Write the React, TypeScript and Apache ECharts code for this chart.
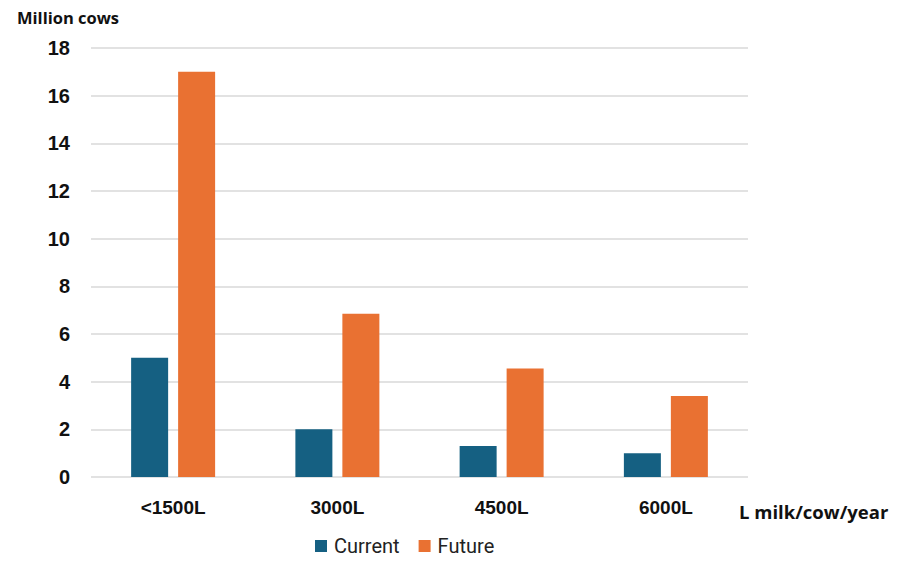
import React, { useEffect, useRef } from "react";
import * as echarts from "echarts";

const categories = ["<1500L", "3000L", "4500L", "6000L"];
const currentValues = [5.0, 2.0, 1.3, 1.0];
const futureValues = [17.0, 6.85, 4.55, 3.4];
const seriesNames = ["Current", "Future"];
const yTitle = "Million cows";
const xTitle = "L milk/cow/year";

export default function App() {
  const ref = useRef<HTMLDivElement>(null);
  useEffect(() => {
    if (!ref.current) return;
    const chart = echarts.init(ref.current, undefined, { renderer: "svg" });
    chart.setOption({
      animation: false,
      backgroundColor: "#ffffff",
      grid: { left: 91, right: 149, top: 48, bottom: 85, containLabel: false },
      legend: {
        left: 315,
        top: 536,
        padding: 0,
        itemWidth: 12,
        itemHeight: 12,
        itemGap: 19,
        icon: "rect",
        textStyle: { fontFamily: "Roboto", fontSize: 20, color: "#222", padding: [0, 0, 0, 2] },
        data: seriesNames,
      },
      xAxis: {
        type: "category",
        data: categories,
        axisLine: { show: false },
        axisTick: { show: false },
        axisLabel: {
          margin: 21,
          fontFamily: "Liberation Sans",
          fontWeight: "bold",
          fontSize: 19,
          color: "#111",
        },
      },
      yAxis: {
        type: "value",
        min: 0,
        max: 18,
        interval: 2,
        axisLine: { show: false },
        axisTick: { show: false },
        splitLine: { lineStyle: { color: "#d9d9d9", width: 1.5 } },
        axisLabel: {
          margin: 21,
          fontFamily: "Liberation Sans",
          fontWeight: "bold",
          fontSize: 20,
          color: "#111",
        },
      },
      graphic: [
        {
          type: "text",
          x: 17,
          y: 17,
          style: {
            text: yTitle,
            fontFamily: "Open Sans",
            fontWeight: "bold",
            fontSize: 16.5,
            fill: "#111",
            verticalAlign: "middle",
          },
        },
        {
          type: "text",
          x: 739,
          y: 511,
          style: {
            text: xTitle,
            fontFamily: "Open Sans",
            fontWeight: "bold",
            fontSize: 18.5,
            fill: "#111",
            verticalAlign: "middle",
          },
        },
      ],
      series: [
        {
          name: seriesNames[0],
          type: "bar",
          data: currentValues,
          barWidth: 37,
          barGap: "27%",
          itemStyle: { color: "#156082" },
        },
        {
          name: seriesNames[1],
          type: "bar",
          data: futureValues,
          barWidth: 37,
          barGap: "27%",
          itemStyle: { color: "#E97132" },
        },
      ],
    });
    return () => chart.dispose();
  }, []);
  return (
    <div
      ref={ref}
      style={{ position: "fixed", left: 0, top: 0, width: 897, height: 562 }}
    />
  );
}
